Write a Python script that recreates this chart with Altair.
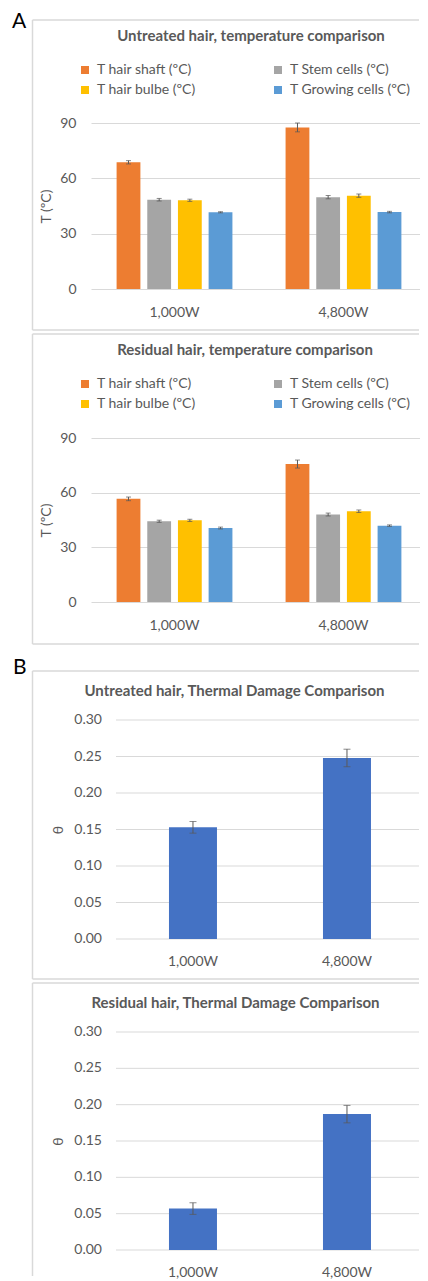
import altair as alt
import pandas as pd

# ---------------- data ----------------
powers = ["1,000W", "4,800W"]
series_names = ["T hair shaft (ºC)", "T Stem cells (ºC)", "T hair bulbe (ºC)", "T Growing cells (ºC)"]
series_colors = ["#ED7D31", "#A5A5A5", "#FFC000", "#5B9BD5"]

# Untreated hair, temperature (ºC) per power
untreated_shaft = [68.7, 87.6]
untreated_stem = [48.4, 49.8]
untreated_bulbe = [48.1, 50.6]
untreated_growing = [41.6, 41.7]
untreated_shaft_err = [0.9, 2.4]
untreated_stem_err = [0.7, 0.9]
untreated_bulbe_err = [0.6, 0.9]
untreated_growing_err = [0.3, 0.4]

# Residual hair, temperature (ºC) per power
residual_shaft = [56.6, 75.7]
residual_stem = [44.3, 48.0]
residual_bulbe = [44.8, 49.8]
residual_growing = [40.6, 41.9]
residual_shaft_err = [1.0, 2.2]
residual_stem_err = [0.6, 0.8]
residual_bulbe_err = [0.6, 0.7]
residual_growing_err = [0.5, 0.4]

# Thermal damage θ per power
untreated_theta = [0.153, 0.248]
untreated_theta_err = [0.008, 0.012]
residual_theta = [0.057, 0.187]
residual_theta_err = [0.008, 0.012]

temp_ticks = [0, 30, 60, 90]
theta_ticks = [0.0, 0.05, 0.10, 0.15, 0.20, 0.25, 0.30]
titles = [
    "Untreated hair,  temperature comparison",
    "Residual hair, temperature comparison",
    "Untreated hair, Thermal Damage Comparison",
    "Residual hair, Thermal Damage Comparison",
]
letters = ["A", "B"]

# ---------------- style ----------------
TEXT = "#595959"
GRID = "#D9D9D9"
ERR = "#595959"
FONT = "Lato"
FS = 14
TFS = 15
W = 329  # plot width of every panel (keeps the page free of scaling)


def one_row():
    return pd.DataFrame({"k": [0]})


def decorations(g, letter=None):
    layers = []
    # invisible helper that fixes each panel's bounding box
    layers.append(
        alt.Chart(one_row()).mark_rule(opacity=0).encode(
            x=alt.value(g["bx"]), y=alt.value(g["by1"]), y2=alt.value(g["by2"])
        )
    )
    # frame (left, top, bottom)
    layers.append(
        alt.Chart(one_row()).mark_rule(color=GRID, strokeWidth=1.5).encode(
            x=alt.value(g["fx"]), y=alt.value(g["ft"]), y2=alt.value(g["fb"])
        )
    )
    layers.append(
        alt.Chart(one_row()).mark_rule(color=GRID, strokeWidth=1.5).encode(
            x=alt.value(g["fx"]), x2=alt.value(W - 1), y=alt.value(g["ft"])
        )
    )
    if g.get("draw_bottom", True):
        layers.append(
            alt.Chart(one_row()).mark_rule(color=GRID, strokeWidth=1.5).encode(
                x=alt.value(g["fx"]), x2=alt.value(W - 1), y=alt.value(g["fb"])
            )
        )
    if letter is not None:
        layers.append(
            alt.Chart(one_row()).mark_text(
                text=letter, font=FONT, fontSize=21, color="#000000",
                align="left", baseline="alphabetic"
            ).encode(x=alt.value(g["lx"]), y=alt.value(g["ly"]))
        )
    layers.append(
        alt.Chart(one_row()).mark_text(
            text=g["title"], font=FONT, fontSize=TFS, fontWeight="bold", color=TEXT,
            align="center", baseline="middle"
        ).encode(x=alt.value(g["tx"]), y=alt.value(g["ty"]))
    )
    return layers


def x_axis(pad):
    return alt.Axis(title=None, labelAngle=0, labelPadding=pad, ticks=False, tickSize=0,
                    domain=False, labelFontSize=FS, labelColor=TEXT, labelFont=FONT, grid=False)


def y_axis(ticks, title, g, height, labels=True, grid=True):
    return alt.Axis(values=ticks, title=title, grid=grid, gridColor=GRID, gridWidth=1,
                    labels=labels, domain=False, ticks=False, tickSize=0, labelPadding=g["ypad"],
                    labelOverlap=False, labelFontSize=FS, labelColor=TEXT, labelFont=FONT,
                    titleFont=FONT, titleFontSize=FS, titleColor=TEXT, titleFontWeight="normal",
                    titleX=g["ytx"], titleY=height / 2, titleAlign="center",
                    titleBaseline="middle", titleAngle=270)


def temp_df(vals, errs):
    rows = []
    for s, v, e in zip(series_names, vals, errs):
        for p, vv, ee in zip(powers, v, e):
            rows.append({"power": p, "series": s, "value": vv, "low": vv - ee, "high": vv + ee})
    return pd.DataFrame(rows)


def temp_panel(vals, errs, g, height, letter=None):
    df = temp_df(vals, errs)
    ytitle = "T (ºC)"
    x = alt.X("power:N", sort=powers, title=None,
              scale=alt.Scale(paddingInner=0.0944, paddingOuter=0.0207, align=1),
              axis=x_axis(g["xpad"]))
    xo = alt.XOffset("series:N", sort=series_names,
                     scale=alt.Scale(domain=series_names, paddingInner=0.224, paddingOuter=0.6065))
    y = alt.Y("value:Q", scale=alt.Scale(domain=[0, 90], nice=False), title=ytitle,
              axis=y_axis(temp_ticks, ytitle, g, height))
    color = alt.Color("series:N", sort=series_names,
                      scale=alt.Scale(domain=series_names, range=series_colors),
                      legend=alt.Legend(orient="none", direction="horizontal", legendX=g["lgx"],
                                        legendY=g["lgy"], columns=2,
                                        columnPadding=g["colpad"], rowPadding=g["rowpad"], title=None,
                                        symbolType="square", symbolSize=64, symbolStrokeWidth=0,
                                        labelFont=FONT, labelFontSize=FS, labelColor=TEXT,
                                        labelOffset=5, padding=0))
    bars = alt.Chart(df).mark_bar().encode(x=x, xOffset=xo, y=y, color=color)
    xe = alt.X("power:N", sort=powers, title=None)
    xoe = alt.XOffset("series:N", sort=series_names)
    err_rule = alt.Chart(df).mark_rule(color=ERR, strokeWidth=1).encode(
        x=xe, xOffset=xoe, y=alt.Y("low:Q", title=ytitle), y2="high")
    cap_lo = alt.Chart(df).mark_tick(color=ERR, size=5, thickness=1).encode(
        x=xe, xOffset=xoe, y=alt.Y("low:Q", title=ytitle))
    cap_hi = alt.Chart(df).mark_tick(color=ERR, size=5, thickness=1).encode(
        x=xe, xOffset=xoe, y=alt.Y("high:Q", title=ytitle))
    layers = decorations(g, letter) + [bars, err_rule, cap_lo, cap_hi]
    return alt.layer(*layers).properties(width=W, height=height)


def theta_panel(vals, errs, g, height, letter=None):
    df = pd.DataFrame({"power": powers, "value": vals,
                       "low": [v - e for v, e in zip(vals, errs)],
                       "high": [v + e for v, e in zip(vals, errs)]})
    grid_df = pd.DataFrame({"tick": theta_ticks})
    ytitle = "θ"
    x = alt.X("power:N", sort=powers, title=None,
              scale=alt.Scale(paddingInner=0.6883, paddingOuter=0.4123, align=0.614),
              axis=x_axis(g["xpad"]))
    y = alt.Y("value:Q", scale=alt.Scale(domain=[0, 0.3], nice=False), title=ytitle,
              axis=y_axis(theta_ticks, ytitle, g, height, labels=False, grid=False))
    gridlines = alt.Chart(grid_df).mark_rule(color=GRID, strokeWidth=1).encode(
        y=alt.Y("tick:Q", title=ytitle), x=alt.value(25), x2=alt.value(W - 1))
    ticklabels = alt.Chart(grid_df).mark_text(
        font=FONT, fontSize=FS, color=TEXT, align="right", baseline="middle"
    ).encode(y=alt.Y("tick:Q", title=ytitle), x=alt.value(25 - g["ypad"]),
             text=alt.Text("tick:Q", format=".2f"))
    bars = alt.Chart(df).mark_bar(color="#4472C4").encode(x=x, y=y)
    xe = alt.X("power:N", sort=powers, title=None)
    err_rule = alt.Chart(df).mark_rule(color=ERR, strokeWidth=1).encode(
        x=xe, y=alt.Y("low:Q", title=ytitle), y2="high")
    cap_lo = alt.Chart(df).mark_tick(color=ERR, size=7, thickness=1).encode(
        x=xe, y=alt.Y("low:Q", title=ytitle))
    cap_hi = alt.Chart(df).mark_tick(color=ERR, size=7, thickness=1).encode(
        x=xe, y=alt.Y("high:Q", title=ytitle))
    layers = decorations(g, letter) + [gridlines, ticklabels, bars, err_rule, cap_lo, cap_hi]
    return alt.layer(*layers).properties(width=W, height=height)


# geometry of each panel relative to its plot area (all plot areas start at page x 91)
g1 = dict(bx=-83, by1=-115, by2=208.5, fx=-58.5, ft=-103, fb=207, lx=-79, ly=-95,
          title=titles[0], tx=160, ty=-87, lgx=-13, lgy=-60, colpad=75, rowpad=6,
          xpad=16, ypad=15, ytx=-45)
g2 = dict(bx=-83, by1=-105.5, by2=219, fx=-58.5, ft=-104, fb=206,
          title=titles[1], tx=154, ty=-88, lgx=-13, lgy=-61, colpad=75, rowpad=6,
          xpad=16, ypad=15, ytx=-45)
g3 = dict(bx=-83, by1=-62, by2=260.5, fx=-58.5, ft=-49, fb=259, lx=-78, ly=-46,
          title=titles[2], tx=143.5, ty=-29, xpad=15, ypad=14, ytx=-33)
g4 = dict(bx=-83, by1=-50.5, by2=244, fx=-58.5, ft=-49, fb=244, draw_bottom=False,
          title=titles[3], tx=144.5, ty=-29, xpad=15, ypad=14, ytx=-33)

p1 = temp_panel([untreated_shaft, untreated_stem, untreated_bulbe, untreated_growing],
                [untreated_shaft_err, untreated_stem_err, untreated_bulbe_err, untreated_growing_err],
                g1, 166, letter=letters[0])
p2 = temp_panel([residual_shaft, residual_stem, residual_bulbe, residual_growing],
                [residual_shaft_err, residual_stem_err, residual_bulbe_err, residual_growing_err],
                g2, 164)
p3 = theta_panel(untreated_theta, untreated_theta_err, g3, 219, letter=letters[1])
p4 = theta_panel(residual_theta, residual_theta_err, g4, 218)

chart = (
    alt.vconcat(p1, p2, p3, p4, spacing=0)
    .resolve_scale(x="independent", y="independent", color="independent", xOffset="independent")
    .resolve_legend(color="independent")
    .properties(padding={"left": 0, "top": 0, "right": 0, "bottom": 0})
    .configure_view(stroke=None)
)

chart.save("out.html", embed_options={"renderer": "svg", "actions": False})
